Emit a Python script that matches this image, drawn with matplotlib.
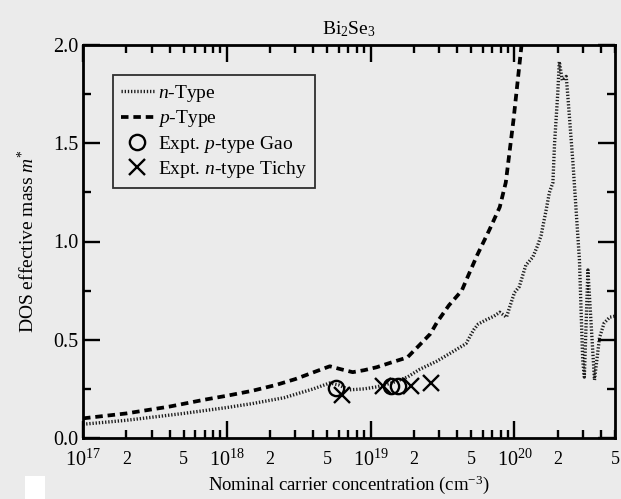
import numpy as np
import matplotlib
matplotlib.use("Agg")
import matplotlib.pyplot as plt
from matplotlib.ticker import FixedLocator, FuncFormatter, MultipleLocator, LogFormatterSciNotation
from matplotlib.patches import Rectangle

# values
n_conc = [1e17, 2e17, 5e17, 1e18, 1.5e18, 2.5e18, 4e18, 5.2e18, 6e18, 7.1e18, 9e18,
          1.1e19, 1.4e19, 1.8e19, 2.2e19, 2.87e19, 3.55e19, 4.6e19, 5.2e19, 5.6e19,
          6.3e19, 7.2e19, 7.9e19, 8.8e19, 9.3e19, 1.0e20, 1.08e20, 1.2e20, 1.34e20,
          1.45e20, 1.53e20, 1.65e20, 1.75e20, 1.85e20, 1.9e20, 2.0e20, 2.05e20,
          2.15e20, 2.29e20, 2.35e20, 2.55e20, 2.83e20, 2.98e20, 3.06e20, 3.24e20,
          3.6e20, 3.9e20, 4.2e20, 4.6e20, 5e20]
n_mass = [0.07, 0.09, 0.125, 0.155, 0.175, 0.205, 0.25, 0.28, 0.27, 0.245, 0.25,
          0.26, 0.28, 0.31, 0.35, 0.39, 0.43, 0.48, 0.55, 0.58,
          0.60, 0.62, 0.64, 0.615, 0.67, 0.74, 0.77, 0.88, 0.92,
          0.98, 1.03, 1.15, 1.25, 1.30, 1.50, 1.755, 1.915,
          1.82, 1.84, 1.74, 1.40, 0.905, 0.40, 0.31, 0.855,
          0.295, 0.51, 0.585, 0.615, 0.62]

p_conc = [1e17, 2e17, 4e17, 7e17, 1e18, 1.5e18, 2.2e18, 3e18, 4.2e18, 5.2e18, 6.2e18,
          7.5e18, 9e18, 1.1e19, 1.4e19, 1.8e19, 2.2e19, 2.6e19, 2.9e19, 3.5e19,
          4.3e19, 4.6e19, 5.5e19, 6.7e19, 7.9e19, 8.7e19, 9.85e19, 1.12e20]
p_mass = [0.10, 0.125, 0.16, 0.195, 0.215, 0.24, 0.27, 0.30, 0.34, 0.365, 0.35,
          0.335, 0.345, 0.36, 0.385, 0.41, 0.475, 0.53, 0.59, 0.675,
          0.75, 0.80, 0.93, 1.06, 1.175, 1.30, 1.62, 2.0]

gao_conc = [5.7e18, 1.38e19, 1.55e19]
gao_mass = [0.254, 0.265, 0.265]

tichy_conc = [6.3e18, 1.21e19, 1.9e19, 2.63e19]
tichy_mass = [0.22, 0.265, 0.265, 0.28]

bg = '#ebebeb'

plt.rcParams['font.family'] = ['Liberation Serif', 'DejaVu Serif']
plt.rcParams['mathtext.fontset'] = 'custom'
plt.rcParams['mathtext.rm'] = 'Liberation Serif'
plt.rcParams['mathtext.it'] = 'Liberation Serif:italic'
plt.rcParams['mathtext.bf'] = 'Liberation Serif:bold'

fig = plt.figure(figsize=(6.21, 4.99), dpi=100, facecolor=bg)
ax = fig.add_axes([83 / 621, 61 / 499, 532 / 621, 393 / 499])
ax.set_facecolor(bg)

ax.plot(n_conc, n_mass, color='#1e1e1e', lw=2.4, dashes=(0.4, 0.55), label=r'$\it{n}$-Type')
ax.plot(p_conc, p_mass, color='black', lw=2.7, dashes=(2.0, 1.3), label=r'$\it{p}$-Type')
ax.plot(gao_conc, gao_mass, ls='none', marker='o', ms=11, mfc='none', mec='black',
        mew=1.7, label=r'Expt. $\it{p}$-type Gao')
ax.plot(tichy_conc, tichy_mass, ls='none', marker='x', ms=11, color='black',
        mew=1.7, label=r'Expt. $\it{n}$-type Tichy')

ax.set_xscale('log')
ax.set_xlim(1e17, 5e20)
ax.set_ylim(0, 2.0)

# ticks: decades labelled as powers, 2 and 5 labelled as plain digits
minor = [m * 10.0 ** k for k in range(17, 21) for m in range(2, 10) if m * 10.0 ** k <= 5.001e20]
ax.xaxis.set_major_locator(FixedLocator([1e17, 1e18, 1e19, 1e20]))
ax.xaxis.set_major_formatter(LogFormatterSciNotation())
ax.xaxis.set_minor_locator(FixedLocator(minor))


def minor_fmt(x, pos):
    m = int(round(x / 10 ** np.floor(np.log10(x) + 1e-9)))
    return str(m) if m in (2, 5) else ''


ax.xaxis.set_minor_formatter(FuncFormatter(minor_fmt))
ax.yaxis.set_major_locator(MultipleLocator(0.5))
ax.yaxis.set_minor_locator(MultipleLocator(0.25))
ax.yaxis.set_major_formatter(FuncFormatter(lambda v, p: '%.1f' % v))

ax.tick_params(which='both', direction='in', top=True, right=True, colors='black')
ax.tick_params(which='major', length=12, width=1.7, labelsize=14.5)
ax.tick_params(which='minor', length=6, width=1.7, labelsize=13)
ax.tick_params(axis='x', which='major', pad=8)
ax.tick_params(axis='x', which='minor', pad=9)
ax.tick_params(axis='y', which='major', pad=3)
for s in ax.spines.values():
    s.set_linewidth(2.0)

ax.set_xlabel(r'Nominal carrier concentration (cm$^{-3}$)', fontsize=13.5)
ax.xaxis.set_label_coords(0.5, -0.09)
ax.set_ylabel(r'DOS effective mass $m^{*}$', fontsize=14)
ax.yaxis.set_label_coords(-0.085, 0.5)
ax.set_title(r'Bi$_2$Se$_3$', fontsize=14, pad=8)

leg = ax.legend(loc='upper left', bbox_to_anchor=(0.056, 0.923), fontsize=14,
                frameon=True, fancybox=False, facecolor='none', edgecolor='black',
                handlelength=1.7, handletextpad=0.25, labelspacing=0.22,
                borderpad=0.4, borderaxespad=0, numpoints=1)
leg.get_frame().set_linewidth(1.3)

# white scrap in the lower left corner of the scan
fig.patches.append(Rectangle((25 / 621, 0), 20 / 621, 23 / 499, transform=fig.transFigure,
                             facecolor='white', edgecolor='none'))

fig.savefig('out.png', dpi=100, facecolor=bg)
